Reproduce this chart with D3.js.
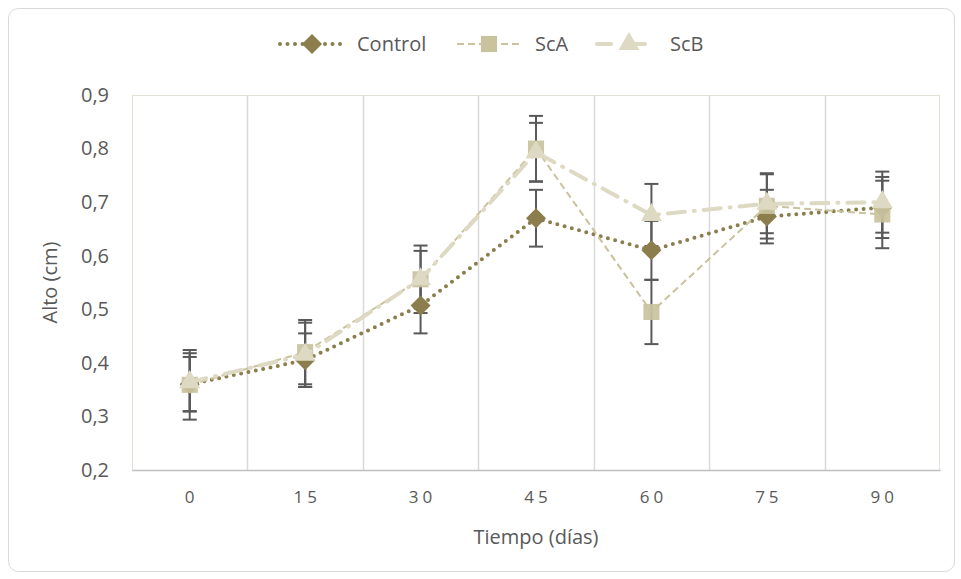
<!DOCTYPE html>
<html>
<head>
<meta charset="utf-8">
<script src="https://cdn.jsdelivr.net/npm/d3@7"></script>
<style>
  html, body { margin: 0; padding: 0; background: #fff; }
  svg { display: block; }
  text { font-family: "Open Sans", Lato, sans-serif; }
</style>
</head>
<body>
<svg id="chart" width="961" height="579"></svg>
<script>
// Sampling days (x categories)
const days = ["0", "15", "30", "45", "60", "75", "90"];
const yTicks = [0.2, 0.3, 0.4, 0.5, 0.6, 0.7, 0.8, 0.9];

// Mean height (cm) per treatment and its standard error
const control    = [0.360, 0.405, 0.507, 0.670, 0.610, 0.673, 0.690];
const controlErr = [0.051, 0.050, 0.052, 0.053, 0.055, 0.050, 0.057];
const scA        = [0.359, 0.420, 0.556, 0.800, 0.495, 0.693, 0.677];
const scAErr     = [0.065, 0.060, 0.053, 0.061, 0.060, 0.061, 0.063];
const scB        = [0.364, 0.415, 0.556, 0.793, 0.676, 0.697, 0.700];
const scBErr     = [0.054, 0.060, 0.063, 0.055, 0.058, 0.055, 0.057];

const seriesNames = ["Control", "ScA", "ScB"];

const series = [
  { name: seriesNames[0], values: control, err: controlErr, color: "#8b7e4c", marker: "diamond",
    width: 4, dash: "0 7.5", cap: "round", mSize: 230 },
  { name: seriesNames[1], values: scA, err: scAErr, color: "#c9c29d", marker: "square",
    width: 2, dash: "7 4", cap: "butt", mSize: 260 },
  { name: seriesNames[2], values: scB, err: scBErr, color: "#ddd9c2", marker: "triangle",
    width: 4, dash: "17 9 1 9", cap: "round", mSize: 190 }
];

const svg = d3.select("#chart");
const plot = { left: 132, right: 940, top: 95, bottom: 470 };
const textColor = "#595959";

// Outer frame
svg.append("rect")
  .attr("x", 8.5).attr("y", 8.5)
  .attr("width", 946).attr("height", 563)
  .attr("rx", 10).attr("ry", 10)
  .attr("fill", "#fff").attr("stroke", "#d9d9d9").attr("stroke-width", 1);

const x = d3.scaleBand().domain(days).range([plot.left, plot.right]).padding(0);
const y = d3.scaleLinear().domain([0.2, 0.9]).range([plot.bottom, plot.top]);
const cx = d => x(d) + x.bandwidth() / 2;

// Plot area border and vertical gridlines between categories
svg.append("rect")
  .attr("x", plot.left + 0.5).attr("y", plot.top + 0.5)
  .attr("width", plot.right - plot.left - 1).attr("height", plot.bottom - plot.top)
  .attr("fill", "none").attr("stroke", "#e3e1d6").attr("stroke-width", 1);

svg.append("g").selectAll("line")
  .data(days.slice(1))
  .join("line")
  .attr("x1", d => Math.round(x(d)) + 0.5).attr("x2", d => Math.round(x(d)) + 0.5)
  .attr("y1", plot.top).attr("y2", plot.bottom)
  .attr("stroke", "#d9d9d9").attr("stroke-width", 1.5);

// Y axis labels
const yAxis = d3.axisLeft(y).tickValues(yTicks)
  .tickFormat(d => d3.format(".1f")(d).replace(".", ","))
  .tickSize(0).tickPadding(23);
const gy = svg.append("g").attr("transform", `translate(${plot.left},0)`).call(yAxis);
gy.select(".domain").remove();
gy.selectAll("text").attr("font-size", 20).attr("fill", textColor);

// X axis
const xAxis = d3.axisBottom(x).tickSize(0).tickPadding(21);
const gx = svg.append("g").attr("transform", `translate(0,${plot.bottom})`).call(xAxis);
gx.select(".domain").attr("stroke", "#bfbfbf").attr("stroke-width", 1.5);
gx.selectAll("text").attr("font-size", 17).attr("fill", textColor)
  .attr("letter-spacing", "4px").attr("dx", "2px");

// Axis titles
svg.append("text")
  .attr("x", (plot.left + plot.right) / 2).attr("y", 544)
  .attr("text-anchor", "middle").attr("font-size", 20).attr("fill", textColor)
  .text("Tiempo (días)");
svg.append("text")
  .attr("transform", `translate(57,${(plot.top + plot.bottom) / 2}) rotate(-90)`)
  .attr("text-anchor", "middle").attr("font-size", 20).attr("fill", textColor)
  .text("Alto (cm)");

// Error bars
const eb = svg.append("g");
series.forEach(s => {
  days.forEach((d, i) => {
    const xc = cx(d);
    const lo = y(s.values[i] - s.err[i]), hi = y(s.values[i] + s.err[i]);
    const g = eb.append("g").attr("stroke", "#595959").attr("stroke-width", 2);
    g.append("line").attr("x1", xc).attr("x2", xc).attr("y1", lo).attr("y2", hi);
    g.append("line").attr("x1", xc - 7).attr("x2", xc + 7).attr("y1", lo).attr("y2", lo);
    g.append("line").attr("x1", xc - 7).attr("x2", xc + 7).attr("y1", hi).attr("y2", hi);
  });
});

const symbolType = { square: d3.symbolSquare, triangle: d3.symbolTriangle };

function markerPath(s) {
  if (s.marker === "diamond") {
    const r = 10;
    return `M0,${-r}L${r},0L0,${r}L${-r},0Z`;
  }
  return d3.symbol().type(symbolType[s.marker]).size(s.mSize)();
}

const line = d3.line().x((v, i) => cx(days[i])).y(v => y(v));

// Series lines and markers
series.forEach(s => {
  svg.append("path")
    .attr("d", line(s.values))
    .attr("fill", "none")
    .attr("stroke", s.color)
    .attr("stroke-width", s.width)
    .attr("stroke-dasharray", s.dash)
    .attr("stroke-linecap", s.cap);
  svg.append("g").selectAll("path")
    .data(s.values)
    .join("path")
    .attr("transform", (v, i) => `translate(${cx(days[i])},${y(v)})`)
    .attr("d", markerPath(s))
    .attr("fill", s.color)
    .attr("opacity", s.marker === "square" ? 0.92 : 1);
});

// Legend
const legendX = [280, 457, 597];
const legendTextX = [357, 535, 670];
const leg = svg.append("g");
series.forEach((s, i) => {
  const x0 = legendX[i], yL = 44;
  const g = leg.append("g");
  g.append("line")
    .attr("x1", x0).attr("x2", x0 + 64)
    .attr("y1", yL).attr("y2", yL)
    .attr("stroke", s.color).attr("stroke-width", s.width)
    .attr("stroke-dasharray", i === 2 ? "14 20" : s.dash)
    .attr("stroke-linecap", s.cap);
  g.append("path")
    .attr("transform", `translate(${x0 + 32},${yL})`)
    .attr("d", markerPath(s))
    .attr("fill", s.color);
  g.append("text")
    .attr("x", legendTextX[i]).attr("y", yL + 7)
    .attr("font-size", 20).attr("fill", textColor)
    .text(s.name);
});
</script>
</body>
</html>
